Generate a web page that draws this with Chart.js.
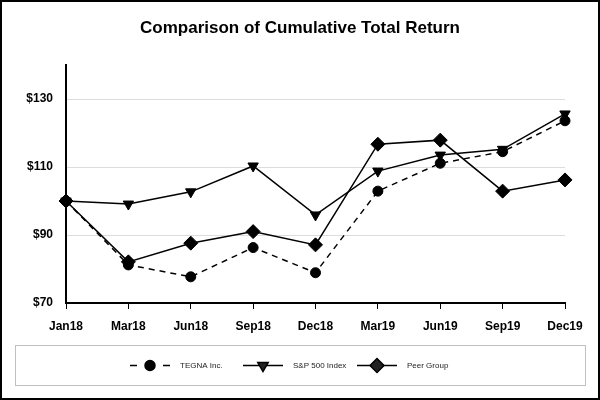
<!DOCTYPE html>
<html>
<head>
<meta charset="utf-8">
<script src="https://cdn.jsdelivr.net/npm/chart.js@4.4.0/dist/chart.umd.min.js"></script>
<style>
    html, body { margin: 0; padding: 0; background: #fff; }
    #wrap { width: 600px; height: 400px; position: relative; }
</style>
</head>
<body>
<div id="wrap"><canvas id="returnChart" width="600" height="400"></canvas></div>
<script>
// Quarter labels along the x axis
var quarters = ['Jan18', 'Mar18', 'Jun18', 'Sep18', 'Dec18', 'Mar19', 'Jun19', 'Sep19', 'Dec19'];

// Cumulative total return values
var tegnaValues = [100, 81.2, 77.7, 86.3, 78.9, 102.9, 111.1, 114.5, 123.6];
var spValues    = [100, 99.1, 102.7, 110.3, 95.9, 108.8, 113.5, 115.2, 125.6];
var peerValues  = [100, 82.1, 87.6, 91.0, 87.1, 116.7, 117.9, 102.9, 106.2];

// y axis tick values shown with labels
var yTicks = [70, 90, 110, 130];

var chartTitle = 'Comparison of Cumulative Total Return';

var FONT = 'Arial, "Liberation Sans", Helvetica, sans-serif';

// frame, title (centred on the whole picture) and the box around the legend
var framePlugin = {
    id: 'frame',
    afterDraw: function(chart) {
        var c = chart.ctx;
        c.save();
        c.strokeStyle = '#000';
        c.lineWidth = 2;
        c.strokeRect(1, 1, chart.width - 2, chart.height - 2);
        c.strokeStyle = '#c0c0c0';
        c.lineWidth = 1;
        c.strokeRect(15.5, 345.5, 570, 40);
        c.fillStyle = '#000';
        c.font = 'bold 17px ' + FONT;
        c.textAlign = 'center';
        c.textBaseline = 'middle';
        c.fillText(chartTitle, chart.width / 2, 28);
        c.restore();
    }
};

// legend drawn by hand so the dashed line and markers look like the original
var legendPlugin = {
    id: 'lineLegend',
    afterDraw: function(chart) {
        var c = chart.ctx;
        var y = 365.5;
        var starts = [130, 243, 357];
        c.save();
        chart.data.datasets.forEach(function(ds, i) {
            var x0 = starts[i];
            c.strokeStyle = '#000';
            c.lineWidth = 1.5;
            c.beginPath();
            if (ds.borderDash && ds.borderDash.length) {
                c.moveTo(x0, y); c.lineTo(x0 + 7, y);
                c.moveTo(x0 + 33, y); c.lineTo(x0 + 40, y);
            } else {
                c.moveTo(x0, y); c.lineTo(x0 + 40, y);
            }
            c.stroke();
            Chart.helpers.drawPoint(c, {
                pointStyle: ds.pointStyle,
                rotation: ds.pointRotation || 0,
                radius: ds.pointRadius,
                borderWidth: 1
            }, x0 + 20, y);
            c.fillStyle = '#222';
            c.font = '8px ' + FONT;
            c.textBaseline = 'middle';
            c.textAlign = 'left';
            c.fillText(ds.label, x0 + 50, y);
        });
        c.restore();
    }
};

var ctx = document.getElementById('returnChart').getContext('2d');

var returnChart = new Chart(ctx, {
    type: 'line',
    data: {
        labels: quarters,
        datasets: [
            {
                label: 'TEGNA Inc.',
                data: tegnaValues,
                borderColor: '#000',
                backgroundColor: '#000',
                borderWidth: 1.5,
                borderDash: [6, 5],
                pointStyle: 'circle',
                pointRadius: 5,
                pointBorderWidth: 1,
                tension: 0
            },
            {
                label: 'S&P 500 Index',
                data: spValues,
                borderColor: '#000',
                backgroundColor: '#000',
                borderWidth: 1.5,
                pointStyle: 'triangle',
                pointRotation: 180,
                pointRadius: 6,
                pointBorderWidth: 1,
                tension: 0
            },
            {
                label: 'Peer Group',
                data: peerValues,
                borderColor: '#000',
                backgroundColor: '#000',
                borderWidth: 1.5,
                pointStyle: 'rectRot',
                pointRadius: 7,
                pointBorderWidth: 1,
                tension: 0
            }
        ]
    },
    options: {
        responsive: false,
        animation: false,
        layout: { padding: { left: 0, right: 35, top: 65, bottom: 0 } },
        plugins: {
            legend: { display: false },
            tooltip: { enabled: false },
            title: { display: false }
        },
        scales: {
            x: {
                offset: false,
                border: { color: '#000', width: 2 },
                grid: { display: true, drawOnChartArea: false, drawTicks: true, tickLength: 6, tickColor: '#000', lineWidth: 1 },
                ticks: {
                    color: '#000',
                    padding: 10,
                    maxRotation: 0,
                    autoSkip: false,
                    font: { family: FONT, size: 12, weight: 'bold' }
                },
                afterFit: function(scale) { scale.height = 97; }
            },
            y: {
                min: 70,
                max: 140,
                border: { color: '#000', width: 2 },
                grid: {
                    drawTicks: false,
                    color: function(c) {
                        var v = c.tick && c.tick.value;
                        return (v === 90 || v === 110 || v === 130) ? '#dcdcdc' : 'rgba(0,0,0,0)';
                    }
                },
                afterBuildTicks: function(scale) {
                    scale.ticks = yTicks.map(function(v) { return { value: v }; }).concat([{ value: 140 }]);
                },
                ticks: {
                    color: '#000',
                    padding: 13,
                    font: { family: FONT, size: 12, weight: 'bold' },
                    callback: function(value) {
                        return yTicks.indexOf(value) >= 0 ? '$' + value : '';
                    }
                },
                afterFit: function(scale) { scale.width = 66; }
            }
        }
    },
    plugins: [framePlugin, legendPlugin]
});
</script>
</body>
</html>
